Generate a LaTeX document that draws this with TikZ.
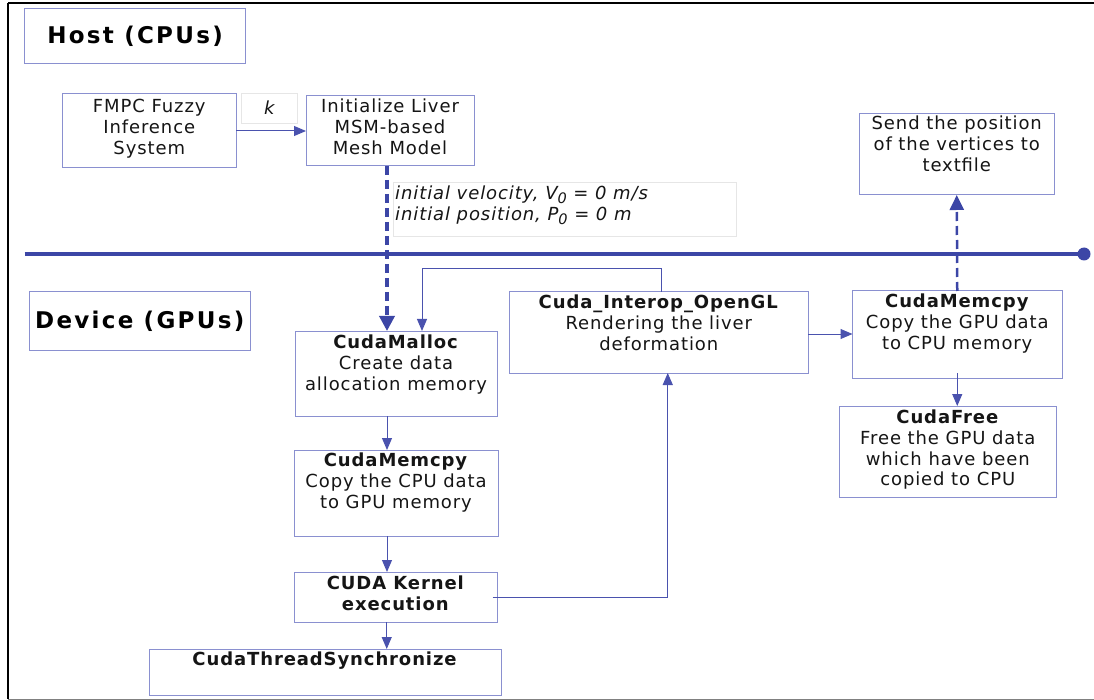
\documentclass[tikz,border=0pt]{standalone}
\usepackage{fontspec}
\setmainfont{DejaVu Sans}[LetterSpace=5]
\newfontfamily\headfam{DejaVu Sans}[LetterSpace=10]
\usetikzlibrary{arrows.meta,calc}

\definecolor{boxblue}{HTML}{8A90D0}
\definecolor{lineblue}{HTML}{4A52AE}
\definecolor{sepblue}{HTML}{3C46A6}
\definecolor{faint}{HTML}{E6E6E6}
\definecolor{ink}{HTML}{151515}

\newcommand\bodyfont{\fontsize{18}{20.7}\selectfont}
\newcommand\headfont{\headfam\fontsize{23}{27}\selectfont\bfseries}
\newcommand\subz{\raisebox{-4pt}{\fontsize{14.5}{14.5}\selectfont 0}}

\tikzset{
  box/.style={draw=boxblue, line width=1pt, fill=white, inner sep=0pt, outer sep=0pt, anchor=north west},
  faintbox/.style={draw=faint, line width=0.8pt, fill=white, inner sep=0pt, outer sep=0pt, anchor=north west},
  txt/.style={anchor=north, align=center, inner sep=0pt, font=\bodyfont, text=ink},
  head/.style={box, font=\headfont, text=black},
  conn/.style={draw=lineblue, line width=1pt, -{Triangle[length=12pt,width=10pt]}},
  thickdash/.style={draw=sepblue, line width=3.5pt, dash pattern=on 9pt off 5pt,
    -{Triangle[length=15pt,width=15pt]}},
  thindash/.style={draw=sepblue, line width=2.5pt, dash pattern=on 9pt off 5pt,
    -{Triangle[length=15pt,width=14pt]}},
}

\begin{document}
\begin{tikzpicture}[x=1pt, y=-1pt]
\useasboundingbox (0,0) rectangle (1094,700);

% outer frame
\draw[black, line width=2pt] (8,3) -- (1100,3);
\draw[black, line width=1.3pt] (8,3) -- (8,699);
\draw[gray, line width=1pt] (8,699) -- (1100,699);

% section headings
\node[head, minimum width=221pt, minimum height=55pt] (host) at (24.6,9) {Host (CPUs)};
\node[head, minimum width=220.5pt, minimum height=58pt] (device) at (29.5,292) {Device (GPUs)};

% host side
\node[box, minimum width=173.5pt, minimum height=74pt] (fmpc) at (62.5,94) {};
\node[txt] (fmpc-t) at ([yshift=-4pt]fmpc.north) {\strut FMPC Fuzzy\\Inference\\System};

\node[faintbox, minimum width=56.5pt, minimum height=30pt] (kbox) at (241,93) {};
\node[txt, anchor=center, font=\bodyfont\itshape] (k-t) at (kbox.center) {k};

\node[box, minimum width=168pt, minimum height=70pt] (init) at (306,96) {};
\node[txt] (init-t) at ([yshift=-2pt]init.north) {\strut Initialize Liver\\MSM-based\\Mesh Model};

\node[faintbox, minimum width=343pt, minimum height=54pt] (lbl) at (393,182) {};
\node[txt, anchor=north west, align=left, font=\bodyfont\itshape] (lbl-t) at ([xshift=2pt,yshift=-3pt]lbl.north west)
  {\strut initial velocity, V\subz{} = 0 m/s\\initial position, P\subz{} = 0 m};

\node[box, minimum width=194.5pt, minimum height=81pt] (send) at (859.5,114) {};
\node[txt] (send-t) at ([yshift=-1pt]send.north) {\strut Send the position\\of the vertices to\\textfile};

% host/device separator
\coordinate (sepL) at (24.6,254);
\coordinate (sepR) at (1084,254);
\draw[sepblue, line width=4pt] (sepL) -- (sepR);
\fill[sepblue] (sepR) circle (6.5pt);

% device side
\node[box, minimum width=202pt, minimum height=85pt] (malloc) at (295,331) {};
\node[txt] (malloc-t) at ([yshift=-3pt]malloc.north) {\strut\textbf{CudaMalloc}\\Create data\\allocation memory};

\node[box, minimum width=204pt, minimum height=86pt] (cpyA) at (294,450) {};
\node[txt] (cpyA-t) at ([yshift=-2pt]cpyA.north) {\strut\textbf{CudaMemcpy}\\Copy the CPU data\\to GPU memory};

\node[box, minimum width=203.5pt, minimum height=50pt] (kernel) at (294,572) {};
\node[txt] (kernel-t) at ([yshift=-3pt]kernel.north) {\strut\textbf{CUDA Kernel}\\\textbf{execution}};

\node[box, minimum width=352pt, minimum height=46pt] (sync) at (149,649) {};
\node[txt] (sync-t) at ([yshift=-2pt]sync.north) {\strut\textbf{CudaThreadSynchronize}};

\node[box, minimum width=298.5pt, minimum height=81pt] (interop) at (509.5,292) {};
\node[txt] (interop-t) at ([yshift=-2pt]interop.north) {\strut\textbf{Cuda\_Interop\_OpenGL}\\Rendering the liver\\deformation};

\node[box, minimum width=209.5pt, minimum height=87pt] (cpyB) at (852.5,291) {};
\node[txt] (cpyB-t) at ([yshift=-2pt]cpyB.north) {\strut\textbf{CudaMemcpy}\\Copy the GPU data\\to CPU memory};

\node[box, minimum width=216.5pt, minimum height=91pt] (free) at (839.5,406) {};
\node[txt] (free-t) at ([yshift=-3pt]free.north) {\strut\textbf{CudaFree}\\Free the GPU data\\which have been\\copied to CPU};

% connectors
\draw[conn] (fmpc) -- (init);
\draw[thickdash] ([xshift=-3pt]init.south) -- ([xshift=-3pt]init.south |- malloc.north);
\draw[conn] ([xshift=-9pt]malloc.south) -- ([xshift=-9pt]malloc.south |- cpyA.north);
\draw[conn] ([xshift=-9pt]cpyA.south) -- ([xshift=-9pt]cpyA.south |- kernel.north);
\draw[conn] ([xshift=-9pt]kernel.south) -- ([xshift=-9pt]kernel.south |- sync.north);
\draw[conn] ([xshift=-5pt]kernel.east) -| ([xshift=9pt]interop.south);
\coordinate (looptop) at (422,269);
\draw[conn] ([xshift=3pt]interop.north) |- (looptop) -- ([xshift=26pt]malloc.north);
\draw[conn] (interop.east |- {(0,334)}) -- (cpyB.west |- {(0,334)});
\draw[conn] ([yshift=5pt]cpyB.south) -- (cpyB.south |- free.north);
\draw[thindash] (cpyB.north) -- (send.south);

\end{tikzpicture}
\end{document}
